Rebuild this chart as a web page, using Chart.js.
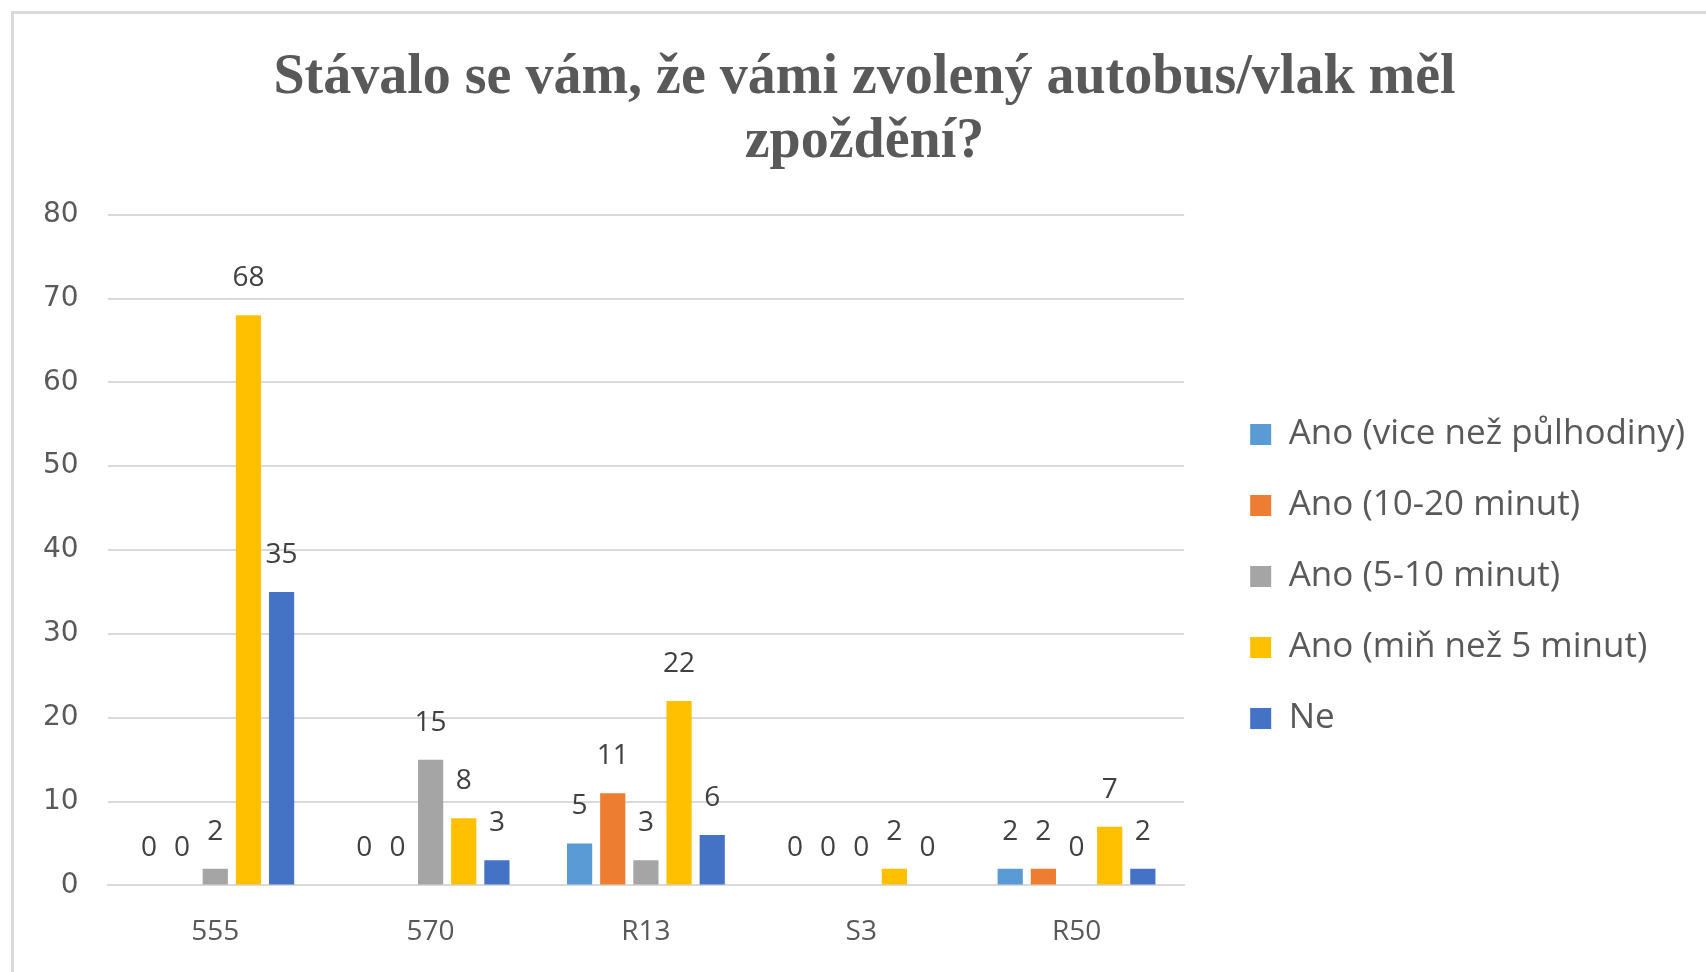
<!DOCTYPE html>
<html>
<head>
<meta charset="utf-8">
<script src="https://cdn.jsdelivr.net/npm/chart.js@4.4.1/dist/chart.umd.min.js"></script>
<style>
    body { margin: 0; background: #fff; }
    .frame {
        position: absolute;
        left: 11px;
        top: 11px;
        width: 1700px;
        height: 970px;
        border-left: 3px solid #d9d9d9;
        border-top: 3px solid #d9d9d9;
    }
    .wrap {
        position: absolute;
        left: 14px;
        top: 14px;
        width: 1692px;
        height: 958px;
    }
</style>
</head>
<body>
<div class="frame"></div>
<div class="wrap"><canvas class="bar-chart"></canvas></div>
<script>
const categorias = ['555', '570', 'R13', 'S3', 'R50'];
const series = ['Ano (vice než půlhodiny)', 'Ano (10-20 minut)', 'Ano (5-10 minut)', 'Ano (miň než 5 minut)', 'Ne'];
const viceNezPulhodiny = [0, 0, 5, 0, 2];
const deset20 = [0, 0, 11, 0, 2];
const pet10 = [2, 15, 3, 0, 0];
const minNez5 = [68, 8, 22, 2, 7];
const ne = [35, 3, 6, 0, 2];
const cores = ['#5B9BD5', '#ED7D31', '#A5A5A5', '#FFC000', '#4472C4'];
const titulo = ['Stávalo se vám, že vámi zvolený autobus/vlak měl', 'zpoždění?'];

// desenha os valores em cima das barras
const rotulos = {
    id: 'rotulos',
    afterDatasetsDraw(chart) {
        const ctx = chart.ctx;
        ctx.save();
        ctx.font = '28px "Open Sans"';
        ctx.fillStyle = '#404040';
        ctx.textAlign = 'center';
        ctx.textBaseline = 'middle';
        chart.data.datasets.forEach((ds, i) => {
            chart.getDatasetMeta(i).data.forEach((bar, j) => {
                ctx.fillText(ds.data[j], bar.x, bar.y - 37);
            });
        });
        ctx.restore();
    }
};

// empurra a legenda e o titulo um pouco (igual ao excel)
const ajustaCaixas = {
    id: 'ajustaCaixas',
    afterLayout(chart) {
        const lg = chart.legend;
        lg.left += 30;
        lg.right += 30;
        lg.top += 84;
        lg.bottom += 84;
        const tt = chart.titleBlock;
        tt.left += 25;
        tt.right += 25;
    }
};

const valores = [viceNezPulhodiny, deset20, pet10, minNez5, ne];

const ctxBar = document.querySelector('.bar-chart').getContext('2d');
const chartBarGraph = new Chart(ctxBar, {
    type: 'bar',
    data: {
        labels: categorias,
        datasets: series.map((nome, i) => ({
            label: nome,
            data: valores[i],
            backgroundColor: cores[i],
            categoryPercentage: 0.77,
            barPercentage: 0.76
        }))
    },
    options: {
        responsive: true,
        maintainAspectRatio: false,
        animation: false,
        layout: { padding: { left: 0, right: 41, bottom: 1 } },
        plugins: {
            title: {
                display: true,
                text: titulo,
                color: '#595959',
                font: { family: '"Liberation Serif"', size: 56, weight: 'bold', lineHeight: 1.14 },
                padding: { top: 33, bottom: 40 }
            },
            legend: {
                position: 'right',
                maxWidth: 600,
                labels: {
                    boxWidth: 21,
                    boxHeight: 21,
                    padding: 36,
                    color: '#595959',
                    font: { family: '"Open Sans"', size: 35 }
                }
            },
            tooltip: { enabled: false }
        },
        scales: {
            x: {
                grid: { display: false },
                border: { color: '#d9d9d9', width: 2 },
                ticks: { color: '#595959', font: { family: '"Open Sans"', size: 28 }, padding: 22 }
            },
            y: {
                min: 0,
                max: 80,
                ticks: { stepSize: 10, color: '#595959', font: { family: '"DejaVu Sans"', size: 28 }, padding: 29 },
                grid: { color: '#d9d9d9', lineWidth: 2, drawTicks: false },
                border: { display: false }
            }
        }
    },
    plugins: [rotulos, ajustaCaixas]
});
</script>
</body>
</html>
